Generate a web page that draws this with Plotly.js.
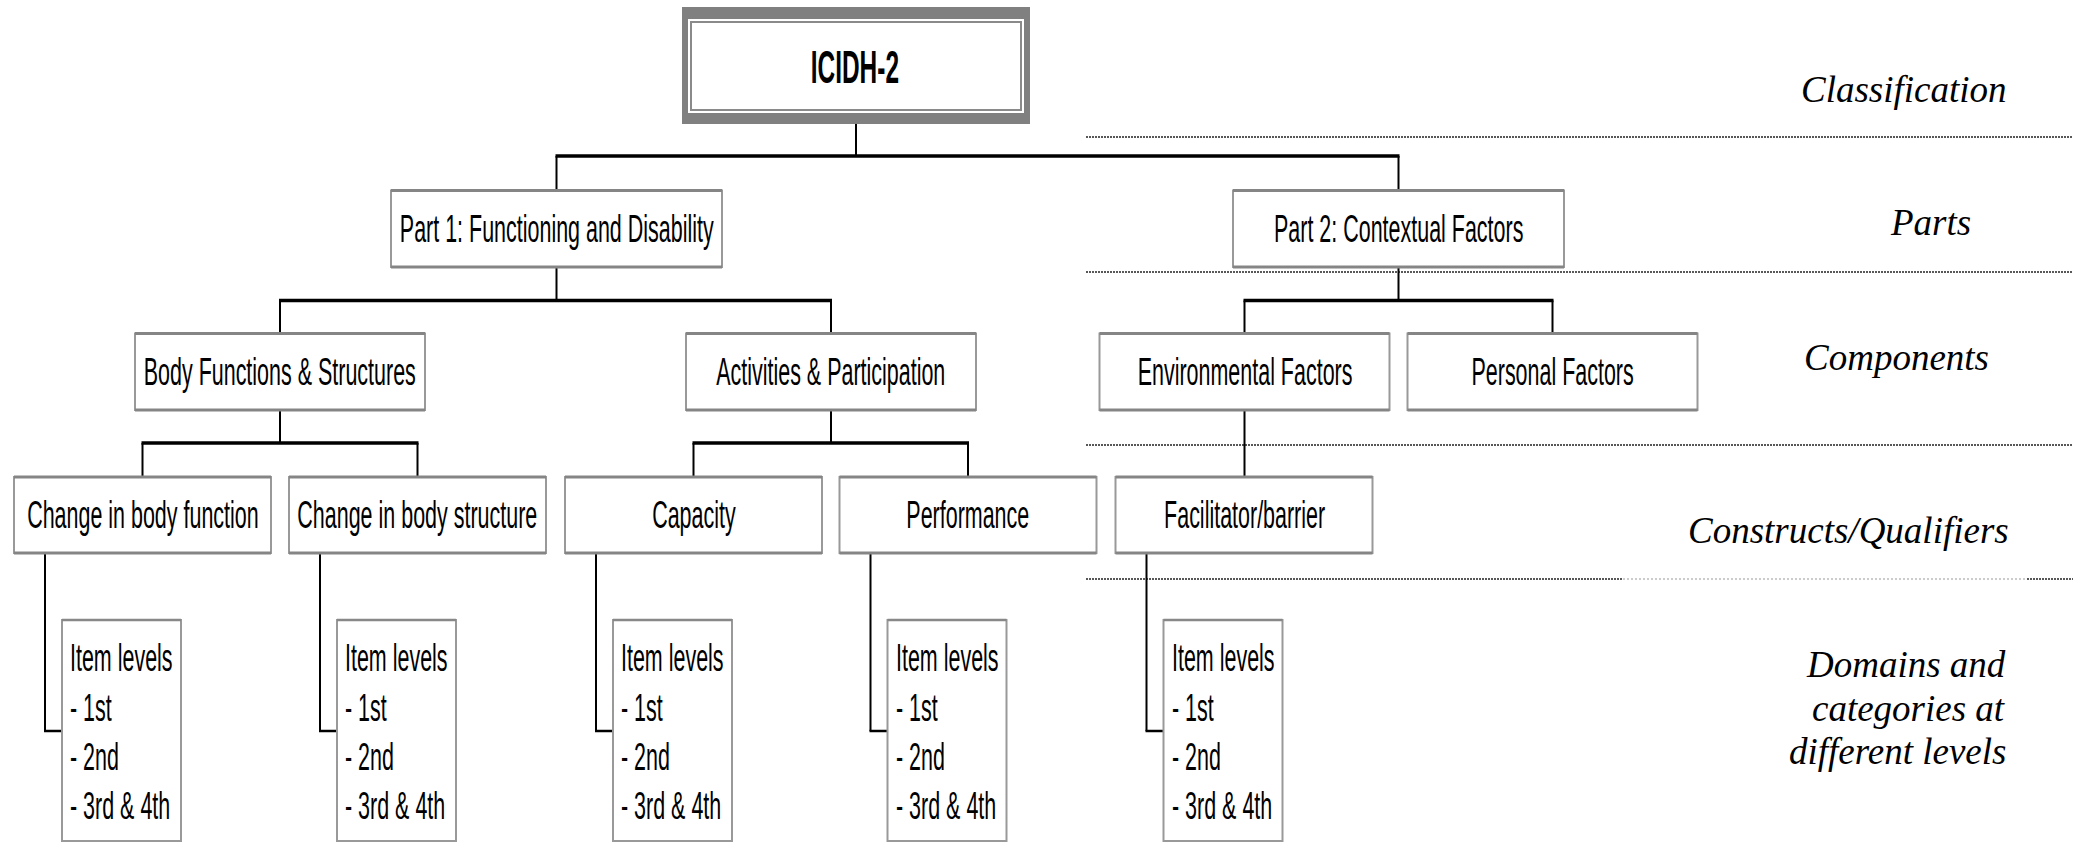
<!DOCTYPE html>
<html>
<head>
<meta charset="utf-8">
<script src="https://cdn.plot.ly/plotly-3.0.1.min.js"></script>
<style>
  html, body { margin: 0; padding: 0; background: #ffffff; }
  #chart { width: 2073px; height: 842px; }
</style>
</head>
<body>
<div id="chart"></div>
<script>
// ---------------- DATA ----------------
const nodeLabels = [
  'ICIDH-2',
  'Part 1: Functioning and Disability',
  'Part 2: Contextual Factors',
  'Body Functions & Structures',
  'Activities & Participation',
  'Environmental Factors',
  'Personal Factors',
  'Change in body function',
  'Change in body structure',
  'Capacity',
  'Performance',
  'Facilitator/barrier'
];
const nodeParents = [-1, 0, 0, 1, 1, 2, 2, 3, 3, 4, 4, 5];
const nodeLevels  = [0, 1, 1, 2, 2, 2, 2, 3, 3, 3, 3, 3];
const itemLevels  = ['Item levels', '- 1st', '- 2nd', '- 3rd & 4th'];
const levelNames  = [
  ['Classification'],
  ['Parts'],
  ['Components'],
  ['Constructs/Qualifiers'],
  ['Domains and', 'categories at', 'different levels']
];

// ---------------- GEOMETRY (layout only) ----------------
const W = 2073, H = 842;
const geo = {
  centers:  [856, 556.5, 1398.5, 280, 831, 1244.5, 1552.5, 142.5, 417.5, 693.5, 968, 1244],
  levelTop: [7, 190.5, 333.5, 477],
  levelBot: [124, 267, 410, 553],
  levelW:   [348, 331, 290, 257],
  busY:     [156, 300.5, 443],
  itemTop: 620, itemBot: 841, itemStemDx: 31, itemLeftDx: 48, itemW: 119, elbowY: 731,
  itemLineY: [658, 707.5, 757, 806],
  sepY: [137, 272, 445, 579], sepX0: 1086,
  labelX: [[1904], [1930], [1896], [1848], [2008, 2008, 2008]],
  labelY: [[89], [222], [357], [530], [664, 708, 751]],
  labelAnchor: ['center', 'center', 'center', 'center', 'right']
};

const SANS = 'Liberation Sans, Arial, sans-serif';
const SERIF = 'Liberation Serif, Times New Roman, serif';
const NARROW = 0.565;   // horizontal condensation of the box lettering

const shapes = [];
const annotations = [];
const squeeze = [];     // [scaleX, originMode] per annotation

function line(x0, y0, x1, y1, w, color, dash) {
  shapes.push({type: 'line', xref: 'x', yref: 'y', x0, y0, x1, y1,
    line: {color: color || '#000', width: w, dash: dash || 'solid'}});
}
function rect(x0, y0, x1, y1, fill, lc, lw) {
  shapes.push({type: 'rect', xref: 'x', yref: 'y', x0, y0, x1, y1,
    fillcolor: fill || 'rgba(0,0,0,0)',
    line: {color: lc || 'rgba(0,0,0,0)', width: lw || 0}});
}
function text(t, x, y, size, family, xanchor, opts, sx, mode) {
  annotations.push(Object.assign({
    text: t, x, y, xref: 'x', yref: 'y', showarrow: false,
    xanchor: xanchor, yanchor: 'middle', align: xanchor === 'right' ? 'right' : (xanchor === 'left' ? 'left' : 'center'),
    font: {family: family, size: size, color: '#000'}
  }, opts || {}));
  squeeze.push([sx, mode]);
}

// separator dotted lines (level bands)
geo.sepY.forEach((y, i) => {
  if (i === 3) {
    line(geo.sepX0, y, 1623, y, 1.6, '#222', '2px,1px');
    line(1623, y, 2027, y, 1.2, '#999', '2px,2px');
    line(2027, y, W, y, 1.6, '#222', '2px,1px');
  } else {
    line(geo.sepX0, y, W, y, 1.6, '#222', '2px,1px');
  }
});

// connectors parent -> children
nodeLabels.forEach((_, p) => {
  const kids = nodeParents.map((q, i) => q === p ? i : -1).filter(i => i >= 0);
  if (!kids.length) return;
  const lv = nodeLevels[p];
  const pc = geo.centers[p];
  const top = geo.levelTop[lv + 1];
  if (kids.length === 1) {
    line(pc, geo.levelBot[lv], pc, top, 2, '#000');
    return;
  }
  const by = geo.busY[lv];
  line(pc, geo.levelBot[lv], pc, by, 2, '#000');
  const cx = kids.map(k => geo.centers[k]);
  line(Math.min(...cx) - 1, by, Math.max(...cx) + 1, by, 3.5, '#000');
  cx.forEach(c => line(c, by, c, top, 2, '#000'));
});

// item-level stems and boxes below each construct
nodeLabels.forEach((_, i) => {
  if (nodeLevels[i] !== 3) return;
  const left = geo.centers[i] - geo.levelW[3] / 2;
  const sx = left + geo.itemStemDx, il = left + geo.itemLeftDx;
  line(sx, geo.levelBot[3], sx, geo.elbowY, 2, '#000');
  line(sx - 1, geo.elbowY, il, geo.elbowY, 2.5, '#000');
  rect(il, geo.itemTop, il + geo.itemW, geo.itemBot, '#fff', '#999', 2);
  line(il, geo.itemTop, il + geo.itemW, geo.itemTop, 2.5, '#888');
  itemLevels.forEach((t, k) => text(t, il + 6, geo.itemLineY[k], 38, SANS, 'left', {}, NARROW, 'left'));
});

// node boxes
nodeLabels.forEach((lab, i) => {
  const lv = nodeLevels[i];
  const c = geo.centers[i], w = geo.levelW[lv];
  const x0 = c - w / 2, x1 = c + w / 2, y0 = geo.levelTop[lv], y1 = geo.levelBot[lv];
  if (lv === 0) {
    rect(x0, y0, x1, y1, '#808080');
    rect(x0 + 6, y0 + 12, x1 - 6, y1 - 11, '#ffffff');
    rect(x0 + 9, y0 + 15, x1 - 9, y1 - 14, 'rgba(0,0,0,0)', '#8a8a8a', 2);
    text(lab, c - 1, (y0 + y1) / 2 + 0.5, 47, SANS, 'center', {font: {family: SANS, size: 47, color: '#000', weight: 'bold'}}, 0.52, 'center');
  } else {
    rect(x0, y0, x1, y1, '#ffffff', '#999999', 2);
    line(x0, y0, x1, y0, 3, '#858585');
    line(x0, y1, x1, y1, 3, '#858585');
    text(lab, c, (y0 + y1) / 2, 38, SANS, 'center', {}, NARROW, 'center');
  }
});

// right-hand level names
levelNames.forEach((lines, i) => {
  lines.forEach((t, k) => text('<i>' + t + '</i>', geo.labelX[i][k], geo.labelY[i][k], 37, SERIF, geo.labelAnchor[i], {}, 1, 'center'));
});

const layout = {
  width: W, height: H,
  margin: {l: 0, r: 0, t: 0, b: 0, pad: 0},
  paper_bgcolor: '#ffffff', plot_bgcolor: '#ffffff',
  showlegend: false,
  xaxis: {range: [0, W], visible: false, showgrid: false, zeroline: false, fixedrange: true},
  yaxis: {range: [H, 0], visible: false, showgrid: false, zeroline: false, fixedrange: true},
  shapes, annotations
};

Plotly.newPlot('chart', [], layout, {staticPlot: true, displayModeBar: false, responsive: false}).then(gd => {
  gd.querySelectorAll('g.annotation').forEach(g => {
    const idx = +g.getAttribute('data-index');
    const s = squeeze[idx];
    if (!s || s[0] === 1) return;
    const t = g.querySelector('text.annotation-text');
    if (!t) return;
    const bb = t.getBBox();
    const ox = s[1] === 'left' ? bb.x : bb.x + bb.width / 2;
    const prev = t.getAttribute('transform') || '';
    t.setAttribute('transform', (prev + ' translate(' + ox + ',0) scale(' + s[0] + ',1) translate(' + (-ox) + ',0)').trim());
  });
});
</script>
</body>
</html>
